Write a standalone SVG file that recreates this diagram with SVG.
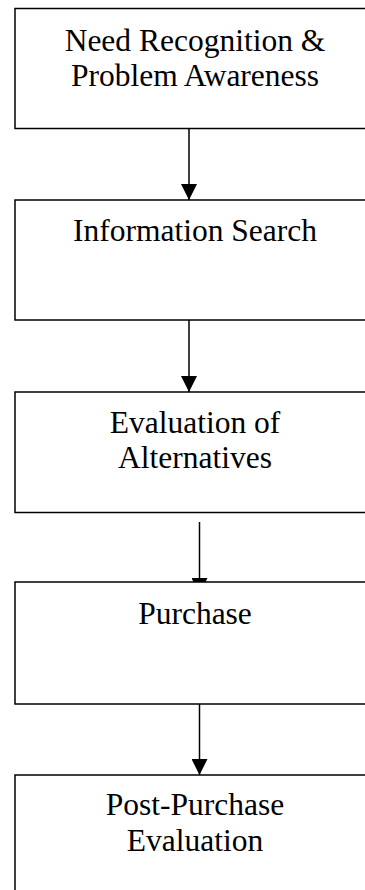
<svg xmlns="http://www.w3.org/2000/svg" width="365" height="890" viewBox="0 0 365 890">
  <style>
    .box { fill: #ffffff; stroke: #000000; stroke-width: 1.5; }
    .lbl { font-family: "Liberation Serif", "Times New Roman", serif; font-size: 31.5px; fill: #000000; text-anchor: middle; }
    .conn { stroke: #000000; stroke-width: 1.5; fill: none; marker-end: url(#arrow); }
  </style>
  <defs>
    <marker id="arrow" markerUnits="userSpaceOnUse" viewBox="0 0 16 16" refX="16" refY="8" markerWidth="16" markerHeight="16" orient="auto">
      <path d="M0,0 L16,8 L0,16 Z" fill="#000000"/>
    </marker>
  </defs>
  <rect width="365" height="890" fill="#ffffff"/>
  <g id="connectors">
    <line class="conn" x1="189" y1="128.5" x2="189" y2="200"/>
    <line class="conn" x1="189" y1="320" x2="189" y2="392"/>
    <line class="conn" x1="199.5" y1="522" x2="199.5" y2="594"/>
    <line class="conn" x1="199.5" y1="704" x2="199.5" y2="775"/>
  </g>
  <g id="node-need-recognition">
    <rect class="box" x="15" y="8.5" width="360" height="120"/>
    <text class="lbl" x="195" y="50.5">Need Recognition &amp;</text>
    <text class="lbl" x="195" y="85.5">Problem Awareness</text>
  </g>
  <g id="node-information-search">
    <rect class="box" x="15" y="200" width="360" height="120"/>
    <text class="lbl" x="195" y="241">Information Search</text>
  </g>
  <g id="node-evaluation-alternatives">
    <rect class="box" x="15" y="392" width="360" height="120.5"/>
    <text class="lbl" x="195" y="433">Evaluation of</text>
    <text class="lbl" x="195" y="468">Alternatives</text>
  </g>
  <g id="node-purchase">
    <rect class="box" x="15" y="582" width="360" height="122"/>
    <text class="lbl" x="195" y="624">Purchase</text>
  </g>
  <g id="node-post-purchase">
    <rect class="box" x="15" y="775" width="360" height="130"/>
    <text class="lbl" x="195" y="815">Post-Purchase</text>
    <text class="lbl" x="195" y="851">Evaluation</text>
  </g>
</svg>
